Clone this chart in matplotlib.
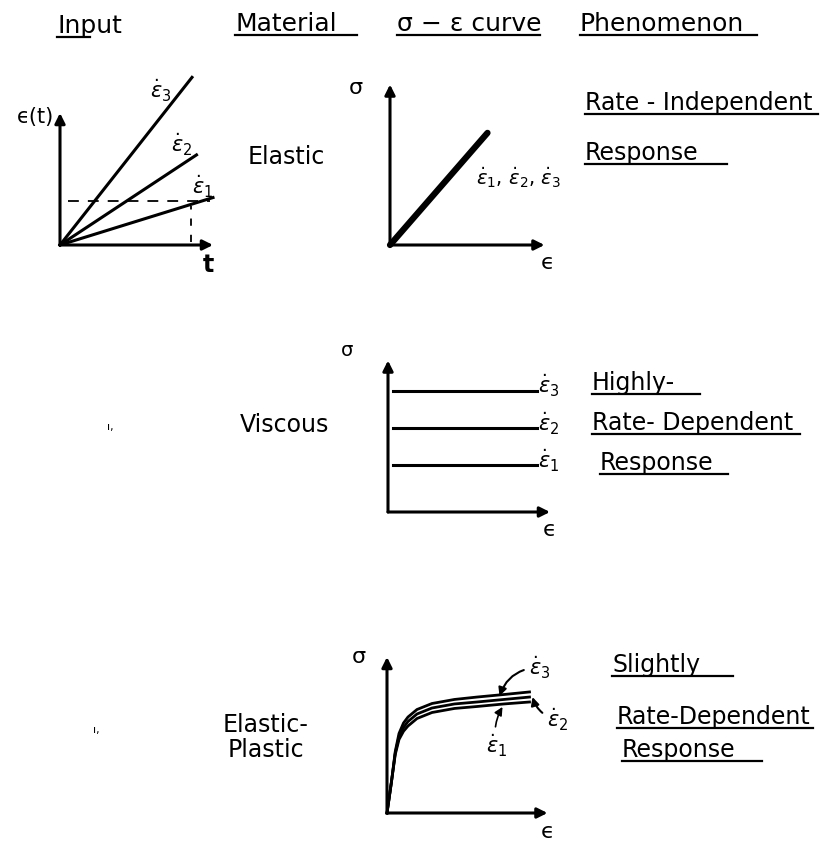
import matplotlib
matplotlib.use('Agg')
import matplotlib.pyplot as plt

W, H = 840, 841
PX = 150.0          # pixels per data unit inside every small sketch

plt.rcParams['font.family'] = ['DejaVu Sans']
plt.rcParams['mathtext.fontset'] = 'dejavusans'

# ---- input: strain histories eps(t) = rate * t
input_rates = [0.31, 0.66, 1.27]          # eps_dot_1, eps_dot_2, eps_dot_3
input_t_end = [1.02, 0.91, 0.88]
input_eps_level = 0.29                    # dashed reference strain
input_t_mark = 0.87                       # dashed reference time

# ---- elastic: one line for all rates
elastic_modulus = 1.15
elastic_eps_end = 0.65

# ---- viscous: flow stress set by rate only
viscous_levels = [0.31, 0.56, 0.81]
viscous_eps = [0.03, 0.99]

# ---- elastic-plastic with slight rate hardening
ep_eps = [0, 0.03, 0.055, 0.08, 0.11, 0.14, 0.2, 0.3, 0.45, 0.6, 0.78, 0.95]
ep_sig_1 = [0, 0.21, 0.39, 0.49, 0.545, 0.58, 0.63, 0.67, 0.697, 0.71, 0.727, 0.74]
ep_sig_2 = [0, 0.21, 0.40, 0.51, 0.57, 0.61, 0.66, 0.70, 0.727, 0.74, 0.757, 0.773]
ep_sig_3 = [0, 0.21, 0.41, 0.53, 0.60, 0.64, 0.69, 0.73, 0.757, 0.773, 0.79, 0.807]

rate_labels = [r'$\dot{\epsilon}_1$', r'$\dot{\epsilon}_2$', r'$\dot{\epsilon}_3$']

HEAD = 18
SIDE = 17
MAT = 17

fig = plt.figure(figsize=(W / 100, H / 100), dpi=100)

# full-page layer for the handwritten headings and notes
page = fig.add_axes([0, 0, 1, 1])
page.set_xlim(0, W)
page.set_ylim(H, 0)
page.axis('off')


def write(x, y, s, size=15, under=None, **kw):
    page.text(x, y, s, fontsize=size, ha='left', va='center', **kw)
    if under:
        for x0, x1 in under:
            page.plot([x0, x1], [y + 11, y + 11], color='k', lw=1.6)


def panel(ox, oy, xmax, ymax):
    ax = fig.add_axes([ox / W, 1 - oy / H, xmax * PX / W, ymax * PX / H])
    ax.set_xlim(0, xmax)
    ax.set_ylim(0, ymax)
    ax.axis('off')
    kw = dict(arrowstyle='-|>', color='k', lw=2.2, mutation_scale=15,
              shrinkA=0, shrinkB=0)
    ax.annotate('', xy=(xmax, 0), xytext=(0, 0), arrowprops=kw,
                annotation_clip=False)
    ax.annotate('', xy=(0, ymax), xytext=(0, 0), arrowprops=kw,
                annotation_clip=False)
    return ax


# headings
write(57, 26, 'Input', size=HEAD, under=[(57, 90)])
write(235, 24, 'Material', size=HEAD, under=[(235, 357)])
write(397, 24, 'σ − ε curve', size=HEAD, under=[(397, 540)])
write(580, 24, 'Phenomenon', size=HEAD, under=[(580, 757)])

# row 1: input histories
ax = panel(60, 245, 1.02, 0.88)
for rate, t_end in zip(input_rates, input_t_end):
    ax.plot([0, t_end], [0, rate * t_end], color='k', lw=2.2, clip_on=False)
ax.plot([0.05, 1.0], [input_eps_level] * 2, color='k', lw=1.3,
        ls=(0, (6, 5)), clip_on=False)
ax.plot([input_t_mark] * 2, [0.02, input_eps_level - 0.03], color='k',
        lw=1.3, ls=(0, (4, 5)), clip_on=False)
for lab, xy in zip(rate_labels, [(0.95, 0.39), (0.81, 0.67), (0.67, 1.03)]):
    ax.text(*xy, lab, fontsize=15, ha='center', va='center')
ax.text(-0.16, 0.85, 'ϵ(t)', fontsize=15, ha='center', va='center')
ax.text(0.99, -0.13, 't', fontsize=17, ha='center', va='center',
        fontweight='bold')

# row 1: elastic
write(248, 157, 'Elastic', size=MAT)
ax = panel(390, 245, 1.03, 1.07)
ax.plot([0, elastic_eps_end], [0, elastic_modulus * elastic_eps_end],
        color='k', lw=4.5, solid_capstyle='round', clip_on=False)
ax.text(0.57, 0.45, ', '.join(rate_labels), fontsize=14, ha='left',
        va='center')
ax.text(-0.23, 1.05, 'σ', fontsize=16, ha='center', va='center')
ax.text(1.05, -0.12, 'ϵ', fontsize=16, ha='center', va='center')
write(585, 103, 'Rate - Independent', size=SIDE, under=[(585, 818)])
write(585, 153, 'Response', size=SIDE, under=[(585, 727)])

# row 2: viscous
write(107, 427, 'ı,', size=8)
write(240, 425, 'Viscous', size=MAT)
ax = panel(388, 512, 1.08, 1.01)
for lab, lvl in zip(rate_labels, viscous_levels):
    ax.plot(viscous_eps, [lvl, lvl], color='k', lw=2.2, clip_on=False)
    ax.text(viscous_eps[1] + 0.08, lvl + 0.03, lab, fontsize=15,
            ha='center', va='center')
ax.text(-0.27, 1.08, 'σ', fontsize=14, ha='center', va='center')
ax.text(1.08, -0.12, 'ϵ', fontsize=16, ha='center', va='center')
write(592, 383, 'Highly-', size=SIDE, under=[(592, 700)])
write(592, 423, 'Rate- Dependent', size=SIDE, under=[(592, 800)])
write(600, 463, 'Response', size=SIDE, under=[(600, 728)])

# row 3: elastic-plastic
write(93, 730, 'ı,', size=8)
write(223, 725, 'Elastic-', size=MAT)
write(228, 750, 'Plastic', size=MAT)
ax = panel(387, 813, 1.07, 1.04)
for sig in (ep_sig_1, ep_sig_2, ep_sig_3):
    ax.plot(ep_eps, sig, color='k', lw=2, clip_on=False)
arr = dict(arrowstyle='-|>', color='k', lw=1.5, mutation_scale=12,
           shrinkA=2, shrinkB=0)
ax.annotate(rate_labels[2], xy=(0.75, ep_sig_3[-2] - 0.01),
            xytext=(1.02, 0.97), fontsize=15, ha='center', va='center',
            arrowprops=dict(arr, connectionstyle='arc3,rad=0.35'),
            annotation_clip=False)
ax.annotate(rate_labels[1], xy=(ep_eps[-1] + 0.02, ep_sig_2[-1]),
            xytext=(1.14, 0.62), fontsize=15, ha='center', va='center',
            arrowprops=dict(arr, connectionstyle='arc3,rad=-0.3'),
            annotation_clip=False)
ax.annotate(rate_labels[0], xy=(0.77, ep_sig_1[-2] - 0.02),
            xytext=(0.73, 0.45), fontsize=15, ha='center', va='center',
            arrowprops=dict(arr, lw=1.2, connectionstyle='arc3,rad=-0.2'),
            annotation_clip=False)
ax.text(-0.19, 1.04, 'σ', fontsize=16, ha='center', va='center')
ax.text(1.07, -0.13, 'ϵ', fontsize=16, ha='center', va='center')
write(612, 665, 'Slightly', size=SIDE, under=[(612, 733)])
write(617, 717, 'Rate-Dependent', size=SIDE, under=[(617, 813)])
write(622, 750, 'Response', size=SIDE, under=[(622, 762)])

fig.savefig('out.png', dpi=100)
